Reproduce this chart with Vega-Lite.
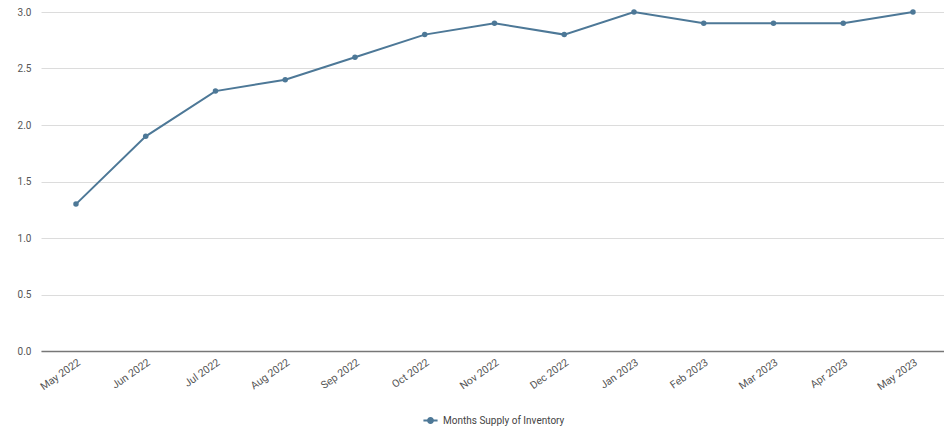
{
  "$schema": "https://vega.github.io/schema/vega-lite/v6.json",
  "width": 903,
  "height": 339,
  "autosize": {"type": "none"},
  "padding": {"left": 41, "top": 12, "right": 0, "bottom": 81},
  "background": "white",
  "config": {
    "view": {"stroke": null},
    "font": "Roboto",
    "axis": {"labelFont": "Roboto", "labelColor": "#555", "labelFontSize": 10}
  },
  "data": {
    "values": [
      {"month": "May 2022", "i": 1, "series": "Months Supply of Inventory", "value": 1.3},
      {"month": "Jun 2022", "i": 2, "series": "Months Supply of Inventory", "value": 1.9},
      {"month": "Jul 2022", "i": 3, "series": "Months Supply of Inventory", "value": 2.3},
      {"month": "Aug 2022", "i": 4, "series": "Months Supply of Inventory", "value": 2.4},
      {"month": "Sep 2022", "i": 5, "series": "Months Supply of Inventory", "value": 2.6},
      {"month": "Oct 2022", "i": 6, "series": "Months Supply of Inventory", "value": 2.8},
      {"month": "Nov 2022", "i": 7, "series": "Months Supply of Inventory", "value": 2.9},
      {"month": "Dec 2022", "i": 8, "series": "Months Supply of Inventory", "value": 2.8},
      {"month": "Jan 2023", "i": 9, "series": "Months Supply of Inventory", "value": 3.0},
      {"month": "Feb 2023", "i": 10, "series": "Months Supply of Inventory", "value": 2.9},
      {"month": "Mar 2023", "i": 11, "series": "Months Supply of Inventory", "value": 2.9},
      {"month": "Apr 2023", "i": 12, "series": "Months Supply of Inventory", "value": 2.9},
      {"month": "May 2023", "i": 13, "series": "Months Supply of Inventory", "value": 3.0}
    ]
  },
  "mark": {"type": "line", "strokeWidth": 2, "point": {"filled": true, "size": 30}},
  "encoding": {
    "x": {
      "field": "month",
      "type": "ordinal",
      "sort": {"field": "i"},
      "scale": {"type": "point", "padding": 0.473, "align": 0.53},
      "axis": {
        "title": null,
        "labelAngle": -35,
        "labelAlign": "right",
        "labelBaseline": "top",
        "labelFontSize": 10.5,
        "ticks": false,
        "grid": false,
        "domainColor": "#777",
        "domainWidth": 1.5,
        "labelPadding": 6
      }
    },
    "y": {
      "field": "value",
      "type": "quantitative",
      "scale": {"domain": [0, 3]},
      "axis": {
        "title": null,
        "values": [0, 0.5, 1, 1.5, 2, 2.5, 3],
        "format": ".1f",
        "domain": false,
        "ticks": false,
        "gridColor": "#dcdcdc",
        "labelPadding": 10
      }
    },
    "color": {
      "field": "series",
      "type": "nominal",
      "scale": {"range": ["#4d7897"]},
      "legend": {
        "title": null,
        "orient": "none",
        "legendX": 381,
        "legendY": 400,
        "direction": "horizontal",
        "labelFont": "Roboto",
        "labelFontSize": 10,
        "labelColor": "#444",
        "symbolType": "M-1,0H1M-0.35,0A0.35,0.35 0 1,0 0.35,0A0.35,0.35 0 1,0 -0.35,0Z",
        "symbolFillColor": "#4d7897",
        "symbolStrokeColor": "#4d7897",
        "symbolStrokeWidth": 2,
        "symbolSize": 200
      }
    }
  }
}
